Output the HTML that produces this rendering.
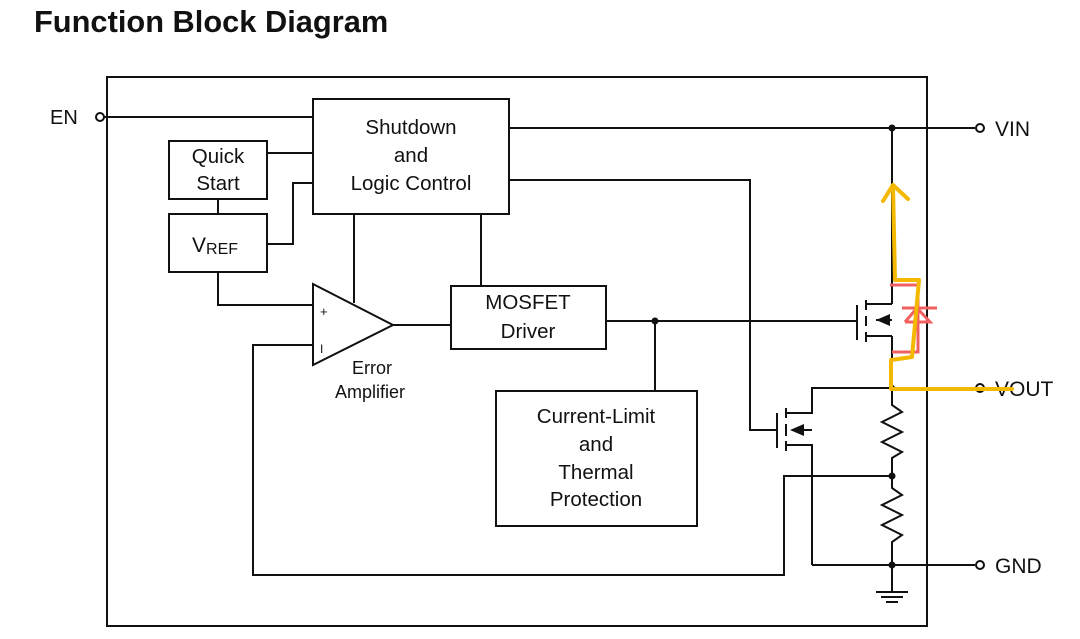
<!DOCTYPE html>
<html><head><meta charset="utf-8"><style>
html,body{margin:0;padding:0;background:#fff;}
svg{display:block;}
text{font-family:"Liberation Sans",Arial,sans-serif;fill:#111;}
</style></head><body>
<svg width="1080" height="639" viewBox="0 0 1080 639" xmlns="http://www.w3.org/2000/svg">
<text x="34" y="32" font-size="30.8" font-weight="bold">Function Block Diagram</text>
<g stroke="#111" stroke-width="2" fill="none">
<rect x="107" y="77" width="820" height="549"/>
<circle cx="100" cy="117" r="4" fill="#fff"/>
<line x1="104" y1="117" x2="313" y2="117"/>
<rect x="313" y="99" width="196" height="115"/>
<rect x="169" y="141" width="98" height="58"/>
<rect x="169" y="214" width="98" height="58"/>
<rect x="451" y="286" width="155" height="63"/>
<rect x="496" y="391" width="201" height="135"/>
<polygon points="313,284 313,365 393,325"/>
<line x1="267" y1="153" x2="313" y2="153"/>
<polyline points="267,244 293,244 293,183 313,183"/>
<line x1="218" y1="199" x2="218" y2="214"/>
<polyline points="218,272 218,305 313,305"/>
<line x1="354" y1="214" x2="354" y2="303"/>
<line x1="481" y1="214" x2="481" y2="286"/>
<line x1="393" y1="325" x2="451" y2="325"/>
<line x1="606" y1="321" x2="857" y2="321"/>
<line x1="655" y1="321" x2="655" y2="391"/>
<line x1="509" y1="128" x2="975" y2="128"/>
<polyline points="509,180 750,180 750,430 777,430"/>
<line x1="892" y1="128" x2="892" y2="304"/>
<line x1="857" y1="305" x2="857" y2="340"/>
<line x1="866" y1="300" x2="866" y2="310"/>
<line x1="866" y1="316" x2="866" y2="326"/>
<line x1="866" y1="332" x2="866" y2="342"/>
<line x1="866" y1="304" x2="892" y2="304"/>
<line x1="866" y1="336" x2="892" y2="336"/>
<line x1="876" y1="320" x2="892" y2="320"/>
<line x1="892" y1="336" x2="892" y2="388"/>
<line x1="892" y1="388" x2="975" y2="388"/>
<polyline points="892,388 812,388 812,413 786,413"/>
<line x1="777" y1="413" x2="777" y2="448"/>
<line x1="786" y1="408" x2="786" y2="418"/>
<line x1="786" y1="424" x2="786" y2="436"/>
<line x1="786" y1="441" x2="786" y2="451"/>
<line x1="800" y1="430" x2="812" y2="430"/>
<polyline points="786,445 812,445 812,565"/>
<polyline points="892,388 892,405 902,412 882,422 902,432 882,442 902,452 892,458 892,476 892,488 902,495 882,505 902,515 882,525 902,535 892,542 892,592"/>
<line x1="812" y1="565" x2="975" y2="565"/>
<polyline points="892,476 784,476 784,575 253,575 253,345 313,345"/>
<line x1="876" y1="592" x2="908" y2="592"/>
<line x1="881" y1="597" x2="903" y2="597"/>
<line x1="886" y1="602" x2="898" y2="602"/>
<circle cx="980" cy="128" r="4" fill="#fff"/>
<circle cx="980" cy="388" r="4" fill="#fff"/>
<circle cx="980" cy="565" r="4" fill="#fff"/>
</g>
<g fill="#111">
<polygon points="876,320 890,314 890,326"/>
<polygon points="790,430 804,424 804,436"/>
<circle cx="892" cy="128" r="3.5"/>
<circle cx="655" cy="321" r="3.5"/>
<circle cx="892" cy="388" r="3"/>
<circle cx="892" cy="476" r="3.5"/>
<circle cx="892" cy="565" r="3.5"/>
</g>
<g font-size="20.5" text-anchor="middle">
<text x="411" y="134">Shutdown</text>
<text x="411" y="162">and</text>
<text x="411" y="190">Logic Control</text>
<text x="218" y="163">Quick</text>
<text x="218" y="190">Start</text>
<text x="528" y="309">MOSFET</text>
<text x="528" y="338">Driver</text>
<text x="596" y="423">Current-Limit</text>
<text x="596" y="451">and</text>
<text x="596" y="479">Thermal</text>
<text x="596" y="506">Protection</text>
</g>
<text x="192" y="252" font-size="21">V<tspan font-size="16" dy="2">REF</tspan></text>
<text x="372" y="374" font-size="18" text-anchor="middle">Error</text>
<text x="370" y="398" font-size="18" text-anchor="middle">Amplifier</text>
<text x="320" y="316" font-size="13">+</text>
<text x="320" y="353" font-size="12">I</text>
<text x="50" y="124" font-size="20">EN</text>
<text x="995" y="136" font-size="21">VIN</text>
<text x="995" y="396" font-size="21">VOUT</text>
<text x="995" y="573" font-size="21">GND</text>
<g stroke="#f06060" stroke-width="3" fill="none">
<polyline points="890,285 918,285 918,352 892,352"/>
<line x1="902" y1="308" x2="937" y2="308"/>
<polyline points="905,322 930,322 917,308 905,322"/>
</g>
<g stroke="#f5b800" stroke-width="4" fill="none" stroke-linejoin="round" stroke-linecap="round">
<polyline points="883,201 893,185 908,199"/>
<polyline points="893,186 895,280 919,280 912,357 891,360 891,389 1012,389"/>
</g>
</svg>
</body></html>
